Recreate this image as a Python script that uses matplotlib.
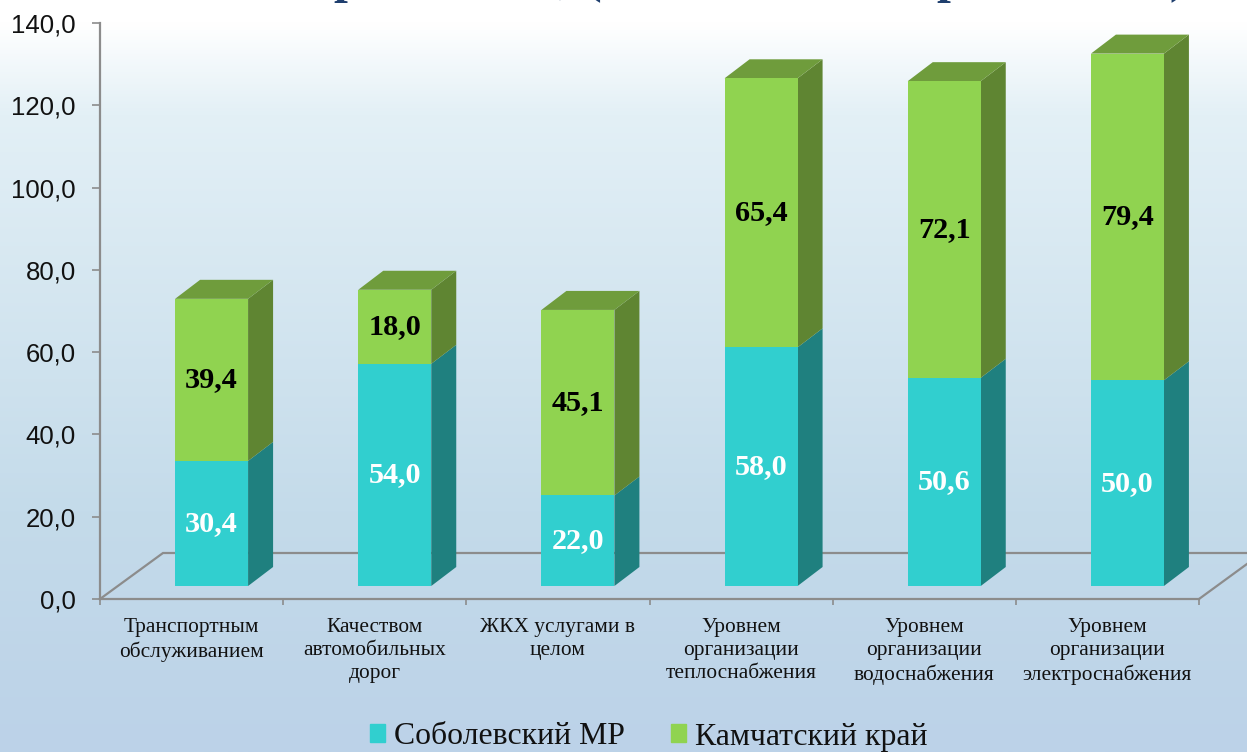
import numpy as np
import matplotlib
matplotlib.use('Agg')
import matplotlib.pyplot as plt
from matplotlib.colors import LinearSegmentedColormap
from matplotlib.patches import Patch

categories = ['Транспортным\nобслуживанием', 'Качеством\nавтомобильных\nдорог',
              'ЖКХ услугами в\nцелом', 'Уровнем\nорганизации\nтеплоснабжения',
              'Уровнем\nорганизации\nводоснабжения', 'Уровнем\nорганизации\nэлектроснабжения']
sobolevsky = [30.4, 54.0, 22.0, 58.0, 50.6, 50.0]
kamchatka = [39.4, 18.0, 45.1, 65.4, 72.1, 79.4]
yticks = [0, 20, 40, 60, 80, 100, 120, 140]
series_names = ['Соболевский МР', 'Камчатский край']

W, H = 1247, 752
TEAL = ('#31cfcf', '#1f807f')
GREEN = ('#90d350', '#5f8532')
TOP_GREEN = '#6f9c3c'
AXIS_GREY = '#8c8c8c'

fig = plt.figure(figsize=(W / 100, H / 100), dpi=100)

# background gradient over the whole figure
bg = fig.add_axes([0, 0, 1, 1], zorder=0)
grad = LinearSegmentedColormap.from_list('bg', [
    (0.0, '#ffffff'), (0.03, '#ffffff'), (0.15, '#e3f0f6'),
    (0.68, '#c4dbea'), (1.0, '#bcd2e8')])
bg.imshow(np.linspace(0, 1, 256).reshape(-1, 1), cmap=grad, aspect='auto', vmin=0, vmax=1)
bg.axis('off')

ax = fig.add_axes([100 / W, 1 - 599 / H, 1099 / W, 576 / H], zorder=1)
ax.patch.set_alpha(0)
ax.set_xlim(0, 6)
ax.set_ylim(0, 140)

# pseudo 3d sizes, converted from pixels to data units
px_x = 6 / 1099
px_y = 140 / 576
depth_x = 25 * px_x
depth_y = 19 * px_y
floor = 13 * px_y
shift = 20 * px_x
bar_w = 73 * px_x

# floor of the chart
back = 46 * px_y
ax.plot([0, 63 * px_x, 6 + 48 * px_x], [0, back, back], color=AXIS_GREY, lw=1.6,
        clip_on=False, zorder=1, solid_joinstyle='miter')
ax.plot([6, 6 + 63 * px_x], [0, back], color=AXIS_GREY, lw=1.6, clip_on=False, zorder=1)


def draw_side(left, bottom, height, color):
    r = left + bar_w
    ax.fill([r, r + depth_x, r + depth_x, r],
            [bottom, bottom + depth_y, bottom + height + depth_y, bottom + height],
            color=color, lw=0, zorder=2, clip_on=False)


for i in range(len(categories)):
    left = i + 0.5 + shift - bar_w / 2
    draw_side(left, floor, sobolevsky[i], TEAL[1])
    draw_side(left, floor + sobolevsky[i], kamchatka[i], GREEN[1])
    top = floor + sobolevsky[i] + kamchatka[i]
    ax.fill([left, left + bar_w, left + bar_w + depth_x, left + depth_x],
            [top, top, top + depth_y, top + depth_y],
            color=TOP_GREEN, lw=0, zorder=2, clip_on=False)

x = np.arange(len(categories)) + 0.5 + shift
bottoms = floor + np.array(sobolevsky)
ax.bar(x, sobolevsky, bar_w, bottom=floor, color=TEAL[0], zorder=3)
ax.bar(x, kamchatka, bar_w, bottom=bottoms, color=GREEN[0], zorder=3)

label_font = dict(family='Liberation Serif', fontweight='bold', fontsize=21.8,
                  ha='center', va='center', zorder=4)
for i in range(len(categories)):
    ax.text(x[i], floor + sobolevsky[i] / 2, f'{sobolevsky[i]:.1f}'.replace('.', ','),
            color='white', **label_font)
    ax.text(x[i], bottoms[i] + kamchatka[i] / 2, f'{kamchatka[i]:.1f}'.replace('.', ','),
            color='black', **label_font)

# axes
for side in ['top', 'right']:
    ax.spines[side].set_visible(False)
for side in ['left', 'bottom']:
    ax.spines[side].set_color(AXIS_GREY)
    ax.spines[side].set_linewidth(1.6)
ax.set_yticks(yticks)
ax.set_yticklabels([f'{v:.1f}'.replace('.', ',') for v in yticks],
                   fontname='Liberation Sans', fontsize=18.5, color='#111111')
ax.tick_params(axis='y', length=5.8, width=1.2, color=AXIS_GREY, pad=11.5)
ax.set_xticks(range(7))
ax.set_xticklabels([])
ax.tick_params(axis='x', length=4, width=1.2, color=AXIS_GREY)
ax.set_xticks(np.arange(6) + 0.5, minor=True)
ax.set_xticklabels(categories, minor=True, fontname='Liberation Serif', fontsize=15.4,
                   color='#111111', linespacing=1.31)
ax.tick_params(axis='x', which='minor', length=0, pad=13.5)

# title is cut off by the top edge of the picture, only these pieces show
for px, ch in [(347, 'р'), (565, ','), (593, '('), (950, 'р'), (1178, ')')]:
    fig.text(px / W, 1 + 8 / H, ch, family='Liberation Serif', fontweight='bold',
             fontsize=36, color='#1f3f6e', ha='center', va='baseline')

handles = [Patch(color=TEAL[0]), Patch(color=GREEN[0])]
fig.legend(handles, series_names, loc='center', bbox_to_anchor=(649 / W, 1 - 737 / H),
           ncols=2, frameon=False, prop={'family': 'Liberation Serif', 'size': 22.9},
           handlelength=0.47, handleheight=0.47, handletextpad=0.28, columnspacing=1.45,
           labelcolor='#111111', borderpad=0)

fig.savefig('out.png', dpi=100)
